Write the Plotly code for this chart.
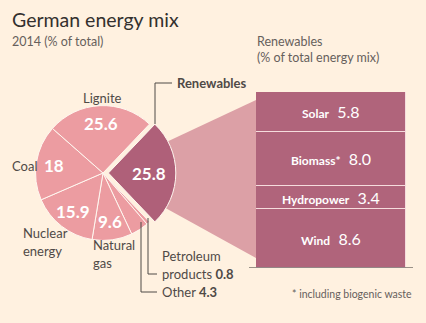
import plotly.graph_objects as go
import numpy as np

W, H = 426, 323

# ---- data ----
pie_labels = ["Renewables", "Petroleum products", "Other", "Natural gas",
              "Nuclear energy", "Coal", "Lignite"]
pie_values = [25.8, 0.8, 4.3, 9.6, 15.9, 18.0, 25.6]
ren_labels = ["Wind", "Hydropower", "Biomass*", "Solar"]
ren_values = [8.6, 3.4, 8.0, 5.8]

BG = "#FFF1E0"
LIGHT = "#EC9CA1"
DARK = "#AF6079"
BAR = "#B0647B"
FAN = "#DCA0A6"
TXT = "#4F4A47"
GREY = "#66605C"
FONT = "Lato"


def px(x):
    return x / W


def py(y):
    return 1 - y / H


# pie geometry (pixels)
cx, cy, r = 103.0, 173.0, 65.0
pull = 0.08
half = r * (1 + 1.5 * pull)
total = sum(pie_values)
rotation = 90 - 360 * pie_values[0] / total / 2

fig = go.Figure()

fig.add_trace(go.Pie(
    labels=pie_labels, values=pie_values, sort=False, direction="clockwise",
    rotation=rotation, pull=[pull] + [0] * (len(pie_values) - 1),
    marker=dict(colors=[DARK] + [LIGHT] * (len(pie_values) - 1),
                line=dict(color="#FFF7F0", width=1)),
    textinfo="none", hoverinfo="label+value", showlegend=False,
    domain=dict(x=[px(cx - half), px(cx + half)], y=[py(cy + half), py(cy - half)]),
))

# stacked renewables bar
bar_left, bar_right, bar_top, bar_bottom = 256, 406, 92, 268
for lab, v in zip(ren_labels, ren_values):
    fig.add_trace(go.Bar(
        x=[0], y=[v], width=1, name=lab, marker=dict(color=BAR, line=dict(color="#F6DCDD", width=1)),
        showlegend=False, hoverinfo="name+y", xaxis="x", yaxis="y",
    ))

annotations = []
shapes = []

# fan polygon from pie slice to bar
shapes.append(dict(type="path", xref="paper", yref="paper", layer="below",
                   path=f"M {px(160)} {py(145)} L {px(bar_left)} {py(100)} L {px(bar_left)} {py(258)} L {px(160)} {py(205)} Z",
                   fillcolor=FAN, line=dict(width=0)))

# values inside pie slices
start = 90 - rotation
cum = 0
for i, (lab, v) in enumerate(zip(pie_labels, pie_values)):
    a0 = start - 360 * cum / total
    mid = np.radians(a0 - 360 * v / 2 / total)
    cum += v
    if v < 5:
        continue
    if i == 0:
        ox, oy = cx + pull * r * np.cos(mid), cy - pull * r * np.sin(mid)
        f = 0.62
    else:
        ox, oy = cx, cy
        f = 0.76
    tx, ty = ox + f * r * np.cos(mid), oy - f * r * np.sin(mid)
    annotations.append(dict(x=px(tx), y=py(ty), xref="paper", yref="paper",
                            xanchor="center", yanchor="middle",
                            text=f"<b>{v:g}</b>", showarrow=False,
                            font=dict(family=FONT, size=17, color="white")))


def label(x, y, text, anchor="left", size=13, color=TXT):
    annotations.append(dict(x=px(x), y=py(y), xref="paper", yref="paper", text=text,
                            showarrow=False, xanchor=anchor, yanchor="middle",
                            align=anchor, font=dict(family=FONT, size=size, color=color)))


label(102, 98, "Lignite", "center")
label(24, 166, "Coal", "center")
label(21, 233, "Nuclear", "left")
label(21, 251, "energy", "left")
label(91, 245, "Natural", "left")
label(91, 263, "gas", "left")
label(160, 256, "Petroleum", "left")
label(160, 274, f"products <b>{pie_values[1]:g}</b>", "left")
label(160, 292, f"Other <b>{pie_values[2]:g}</b>", "left")
label(175, 83, "<b>Renewables</b>", "left")

# titles
label(10, 19, "German energy mix", "left", 19.5, "#33302E")
label(10, 41, "2014 (% of total)", "left", 12.5, GREY)
label(255, 41, "Renewables", "left", 12.5, GREY)
label(255, 58, "(% of total energy mix)", "left", 12.5, GREY)
label(414, 294, "* including biogenic waste", "right", 10.5, GREY)

# leader lines
LC = "#4F4A47"
for pts in ([(155, 124), (155, 83), (172, 83)],
            [(148, 218), (148, 274), (157, 274)],
            [(141, 222), (141, 292), (157, 292)]):
    path = "M " + " L ".join(f"{px(a)} {py(b)}" for a, b in pts)
    shapes.append(dict(type="path", xref="paper", yref="paper", path=path,
                       line=dict(color=LC, width=1)))

# baseline
shapes.append(dict(type="line", xref="paper", yref="y", x0=px(249), x1=px(413), y0=0, y1=0,
                   line=dict(color="#33302E", width=1)))

# bar segment labels
base = 0
for lab, v in zip(ren_labels, ren_values):
    annotations.append(dict(x=0, y=base + v / 2, xref="x", yref="y", showarrow=False,
                            xanchor="center", yanchor="middle",
                            text=f"<span style='font-size:12px'><b>{lab}</b></span>  {v:.1f}",
                            font=dict(family=FONT, size=16, color="white")))
    base += v

fig.update_layout(
    width=W, height=H, margin=dict(l=0, r=0, t=0, b=0),
    paper_bgcolor=BG, plot_bgcolor="rgba(0,0,0,0)", barmode="stack", bargap=0,
    xaxis=dict(domain=[px(bar_left), px(bar_right)], range=[-0.5, 0.5], visible=False, fixedrange=True),
    yaxis=dict(domain=[py(bar_bottom), py(bar_top)], range=[0, sum(ren_values)], visible=False, fixedrange=True),
    annotations=annotations, shapes=shapes,
)

fig.write_html("out.html")
